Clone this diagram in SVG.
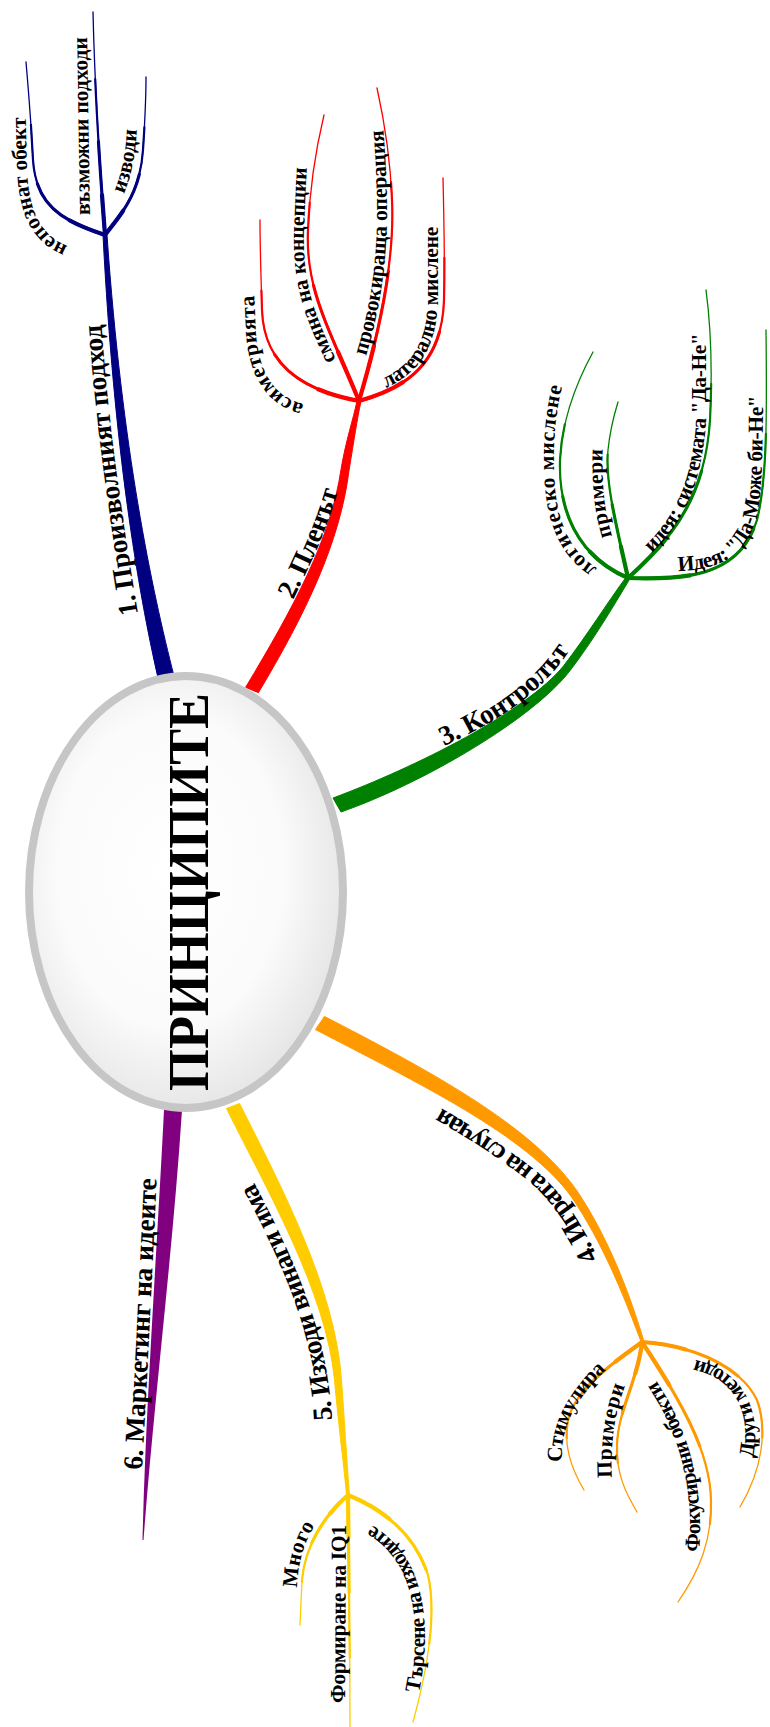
<svg xmlns="http://www.w3.org/2000/svg" width="770" height="1727" viewBox="0 0 770 1727">
<style>
.navy{stroke:#000080;fill:#000080}
.red{stroke:#ff0000;fill:#ff0000}
.green{stroke:#008000;fill:#008000}
.orange{stroke:#ff9900;fill:#ff9900}
.yellow{stroke:#ffcc00;fill:#ffcc00}
.purple{fill:#800080}
g.sub use{fill:none;stroke-linecap:round;stroke-linejoin:round}
g.sub use.w1{stroke-width:1.3}
g.sub use.w2{stroke-width:2.2;stroke-dasharray:70 300}
g.sub use.w3{stroke-width:3.1;stroke-dasharray:42 300}
g.sub use.w4{stroke-width:4.2;stroke-dasharray:18 300}
.lbl{font-family:"Liberation Serif","Times New Roman",serif;font-weight:bold;fill:#000}
.m{font-size:27.5px}
.s{font-size:21.5px}
</style>
<defs>
<radialGradient id="glass" cx="0.45" cy="0.45" r="0.6">
<stop offset="0" stop-color="#ffffff"/>
<stop offset="0.6" stop-color="#fbfbfb"/>
<stop offset="1" stop-color="#e2e2e2"/>
</radialGradient>
<path id="b_n1" pathLength="100" d="M105,235 C60,220 36,205 33,160 C31,120 28,85 26,62"/>
<path id="b_n2" pathLength="100" d="M105,235 C100,170 95,100 93,12"/>
<path id="b_n3" pathLength="100" d="M105,235 C120,215 140,195 143,150 C145,120 146,100 146,77"/>
<path id="b_r1" pathLength="100" d="M359,401 C310,392 264,370 262,310 C261,275 260,250 260,220"/>
<path id="b_r2" pathLength="100" d="M359,401 C330,330 305,290 308,230 C310,180 318,140 324,115"/>
<path id="b_r3" pathLength="100" d="M359,401 C380,330 395,260 392,200 C390,150 383,115 377,88"/>
<path id="b_r4" pathLength="100" d="M359,401 C405,388 442,365 444,300 C445,260 444,220 443,178"/>
<path id="b_g1" pathLength="100" d="M628,578 C585,560 558,520 560,460 C562,420 575,385 593,352"/>
<path id="b_g2" pathLength="100" d="M628,578 C615,520 605,480 608,450 C610,430 614,415 618,402"/>
<path id="b_g3" pathLength="100" d="M628,578 C670,540 705,500 710,420 C713,360 710,320 706,290"/>
<path id="b_g4" pathLength="100" d="M628,578 C690,580 740,575 757,520 C767,480 767,420 766,330"/>
<path id="b_o1" pathLength="100" d="M642,1342 C610,1365 575,1390 568,1420 C563,1445 572,1470 584,1490"/>
<path id="b_o2" pathLength="100" d="M642,1342 C638,1380 618,1410 617,1445 C616,1475 627,1495 637,1512"/>
<path id="b_o3" pathLength="100" d="M642,1342 C680,1400 710,1450 711,1500 C712,1540 700,1570 678,1602"/>
<path id="b_o4" pathLength="100" d="M642,1342 C690,1345 740,1365 757,1400 C768,1430 762,1470 740,1507"/>
<path id="b_y1" pathLength="100" d="M348,1495 C325,1515 305,1545 302,1580 L300,1625"/>
<path id="b_y2" pathLength="100" d="M348,1495 C349,1580 350,1650 350,1727"/>
<path id="b_y3" pathLength="100" d="M348,1495 C385,1510 415,1535 428,1575 C436,1610 430,1660 413,1722"/>

<path id="tp_n1" d="M68,246 C42,236 28,214 27,165 L25,92"/>
<path id="tp_n2" d="M90,215 C89,160 88,100 87,35"/>
<path id="tp_n3" d="M124,194 C131,176 136,156 137,125"/>
<path id="tp_r1" d="M304,404 C282,399 260,382 256,335 L253,272"/>
<path id="tp_r2" d="M336,360 C318,320 302,290 304,230 L307,160"/>
<path id="tp_r3" d="M366,356 C380,310 388,260 387,200 C386,170 385,148 383,125"/>
<path id="tp_r4" d="M386,388 C418,373 436,350 438,300 L438,203"/>
<path id="tp_g1" d="M597,568 C572,552 555,525 554,470 C553,440 556,410 563,383"/>
<path id="tp_g2" d="M612,536 C604,510 601,480 603,446"/>
<path id="tp_g3" d="M652,553 C680,525 702,490 706,420 L706,318"/>
<path id="tp_g4" d="M678,571 C720,569 748,558 758,510 C763,480 763,430 763,366"/>
<path id="tp_o1" d="M562,1462 C560,1430 574,1400 606,1370"/>
<path id="tp_o2" d="M612,1478 C610,1440 615,1410 628,1378"/>
<path id="tp_o3" d="M699,1552 C703,1500 695,1450 668,1400 L651,1372"/>
<path id="tp_o4" d="M753,1458 C760,1420 750,1390 725,1372 C710,1362 690,1358 672,1356"/>
<path id="tp_y1" d="M297,1588 C298,1560 305,1540 318,1520"/>
<path id="tp_y2" d="M345,1703 L346,1522"/>
<path id="tp_y3" d="M419,1693 C428,1650 428,1600 410,1565 C395,1538 375,1525 355,1517"/>
<path id="tp_L1" d="M138,614 C126,540 108,430 101,318"/>
<path id="tp_L2" d="M293,600 C310,565 326,533 339,487"/>
<path id="tp_L3" d="M444,746 C490,725 540,698 573,645"/>
<path id="tp_L4" d="M598,1258 C580,1220 560,1190 535,1170 C500,1142 455,1115 405,1088"/>
<path id="tp_L5" d="M332,1420 C328,1330 290,1250 250,1175"/>
<path id="tp_L6" d="M142,1470 C147,1380 152,1280 157,1172"/>
</defs>

<g id="connectors">
<path class="navy" d="M158,678 C138,590 114,450 103,235 L107,235 C122,450 152,590 174,676 Z"/>
<path class="red" d="M245.6,687.3 C294,607 331,538 341,469.4 C346,440 353,420 357,401 L361,401 C357,420 354,440 349,470.6 C340,542 306,613 258.4,692.7 Z"/>
<path class="green" d="M333,798 C416,767 526,712 563.8,665.6 C586.8,635.6 607,603 626.3,576.9 L629.7,579.1 C613,607 593.2,640.4 570.2,670.4 C534,718 424,783 341,812 Z"/>
<path class="orange" d="M324.5,1016.4 C424,1068 533,1125 578.3,1192.8 C608,1238 628,1289 643.4,1339.5 L640.6,1340.5 C622,1291 602,1242 571.7,1197.2 C527,1135 416,1082 315.5,1029.6 Z"/>
<path class="yellow" d="M226.5,1108.5 C268,1192 326,1292 334.5,1380 C339,1430 344.5,1470 346.5,1495 L349.5,1495 C347.5,1470 345,1430 341.5,1380 C335,1288 282,1188 239.5,1103.5 Z"/>
<path class="purple" d="M164,1110 C157,1250 146,1400 142.5,1540 L143.5,1540 C154,1400 173,1250 182,1110 Z"/>
<g class="navy sub">
<use href="#b_n1" class="w1"/><use href="#b_n1" class="w2"/><use href="#b_n1" class="w3"/><use href="#b_n1" class="w4"/>
<use href="#b_n2" class="w1"/><use href="#b_n2" class="w2"/><use href="#b_n2" class="w3"/><use href="#b_n2" class="w4"/>
<use href="#b_n3" class="w1"/><use href="#b_n3" class="w2"/><use href="#b_n3" class="w3"/><use href="#b_n3" class="w4"/>
</g>
<g class="red sub">
<use href="#b_r1" class="w1"/><use href="#b_r1" class="w2"/><use href="#b_r1" class="w3"/><use href="#b_r1" class="w4"/>
<use href="#b_r2" class="w1"/><use href="#b_r2" class="w2"/><use href="#b_r2" class="w3"/><use href="#b_r2" class="w4"/>
<use href="#b_r3" class="w1"/><use href="#b_r3" class="w2"/><use href="#b_r3" class="w3"/><use href="#b_r3" class="w4"/>
<use href="#b_r4" class="w1"/><use href="#b_r4" class="w2"/><use href="#b_r4" class="w3"/><use href="#b_r4" class="w4"/>
</g>
<g class="green sub">
<use href="#b_g1" class="w1"/><use href="#b_g1" class="w2"/><use href="#b_g1" class="w3"/><use href="#b_g1" class="w4"/>
<use href="#b_g2" class="w1"/><use href="#b_g2" class="w2"/><use href="#b_g2" class="w3"/><use href="#b_g2" class="w4"/>
<use href="#b_g3" class="w1"/><use href="#b_g3" class="w2"/><use href="#b_g3" class="w3"/><use href="#b_g3" class="w4"/>
<use href="#b_g4" class="w1"/><use href="#b_g4" class="w2"/><use href="#b_g4" class="w3"/><use href="#b_g4" class="w4"/>
</g>
<g class="orange sub">
<use href="#b_o1" class="w1"/><use href="#b_o1" class="w2"/><use href="#b_o1" class="w3"/><use href="#b_o1" class="w4"/>
<use href="#b_o2" class="w1"/><use href="#b_o2" class="w2"/><use href="#b_o2" class="w3"/><use href="#b_o2" class="w4"/>
<use href="#b_o3" class="w1"/><use href="#b_o3" class="w2"/><use href="#b_o3" class="w3"/><use href="#b_o3" class="w4"/>
<use href="#b_o4" class="w1"/><use href="#b_o4" class="w2"/><use href="#b_o4" class="w3"/><use href="#b_o4" class="w4"/>
</g>
<g class="yellow sub">
<use href="#b_y1" class="w1"/><use href="#b_y1" class="w2"/><use href="#b_y1" class="w3"/><use href="#b_y1" class="w4"/>
<use href="#b_y2" class="w1"/><use href="#b_y2" class="w2"/><use href="#b_y2" class="w3"/><use href="#b_y2" class="w4"/>
<use href="#b_y3" class="w1"/><use href="#b_y3" class="w2"/><use href="#b_y3" class="w3"/><use href="#b_y3" class="w4"/>
</g>
</g>

<g id="node-center">
<ellipse cx="186" cy="892" rx="157" ry="216" fill="url(#glass)" stroke="#c6c6c6" stroke-width="8"/>
<text class="lbl" font-size="57" text-anchor="middle" transform="translate(208,892) rotate(-90)" textLength="398" lengthAdjust="spacingAndGlyphs">ПРИНЦИПИТЕ</text>
</g>

<g id="node-1"><text class="lbl m"><textPath href="#tp_L1" textLength="292">1. Произволният подход</textPath></text></g>
<g id="node-1a"><text class="lbl s"><textPath href="#tp_n1" textLength="145">непознат обект</textPath></text></g>
<g id="node-1b"><text class="lbl s"><textPath href="#tp_n2" textLength="178">възможни подходи</textPath></text></g>
<g id="node-1c"><text class="lbl s"><textPath href="#tp_n3" textLength="66">изводи</textPath></text></g>

<g id="node-2"><text class="lbl m"><textPath href="#tp_L2" textLength="118">2. Пленът</textPath></text></g>
<g id="node-2a"><text class="lbl s"><textPath href="#tp_r1" textLength="130">асиметрията</textPath></text></g>
<g id="node-2b"><text class="lbl s"><textPath href="#tp_r2" textLength="198">смяна на концепции</textPath></text></g>
<g id="node-2c"><text class="lbl s"><textPath href="#tp_r3" textLength="228">провокираща операция</textPath></text></g>
<g id="node-2d"><text class="lbl s"><textPath href="#tp_r4" textLength="182">латерално мислене</textPath></text></g>

<g id="node-3"><text class="lbl m"><textPath href="#tp_L3" textLength="160">3. Контролът</textPath></text></g>
<g id="node-3a"><text class="lbl s"><textPath href="#tp_g1" textLength="196">логическо мислене</textPath></text></g>
<g id="node-3b"><text class="lbl s"><textPath href="#tp_g2" textLength="88">примери</textPath></text></g>
<g id="node-3c"><text class="lbl s"><textPath href="#tp_g3" textLength="234">идея: системата "Да-Не"</textPath></text></g>
<g id="node-3d"><text class="lbl s"><textPath href="#tp_g4" textLength="226">Идея: "Да-Може би-Не"</textPath></text></g>

<g id="node-4"><text class="lbl m"><textPath href="#tp_L4" textLength="222">4. Играта на случая</textPath></text></g>
<g id="node-4a"><text class="lbl s"><textPath href="#tp_o1" textLength="106">Стимулира</textPath></text></g>
<g id="node-4b"><text class="lbl s"><textPath href="#tp_o2" textLength="94">Примери</textPath></text></g>
<g id="node-4c"><text class="lbl s"><textPath href="#tp_o3" textLength="180">Фокусирани обекти</textPath></text></g>
<g id="node-4d"><text class="lbl s"><textPath href="#tp_o4" textLength="128">Други методи</textPath></text></g>

<g id="node-5"><text class="lbl m"><textPath href="#tp_L5" textLength="252">5. Изходи винаги има</textPath></text></g>
<g id="node-5a"><text class="lbl s"><textPath href="#tp_y1" textLength="66">Много</textPath></text></g>
<g id="node-5b"><text class="lbl s"><textPath href="#tp_y2" textLength="178">Формиране на IQ1</textPath></text></g>
<g id="node-5c"><text class="lbl s"><textPath href="#tp_y3" textLength="186">Търсене на изходите</textPath></text></g>

<g id="node-6"><text class="lbl m"><textPath href="#tp_L6" textLength="292">6. Маркетинг на идеите</textPath></text></g>
</svg>
